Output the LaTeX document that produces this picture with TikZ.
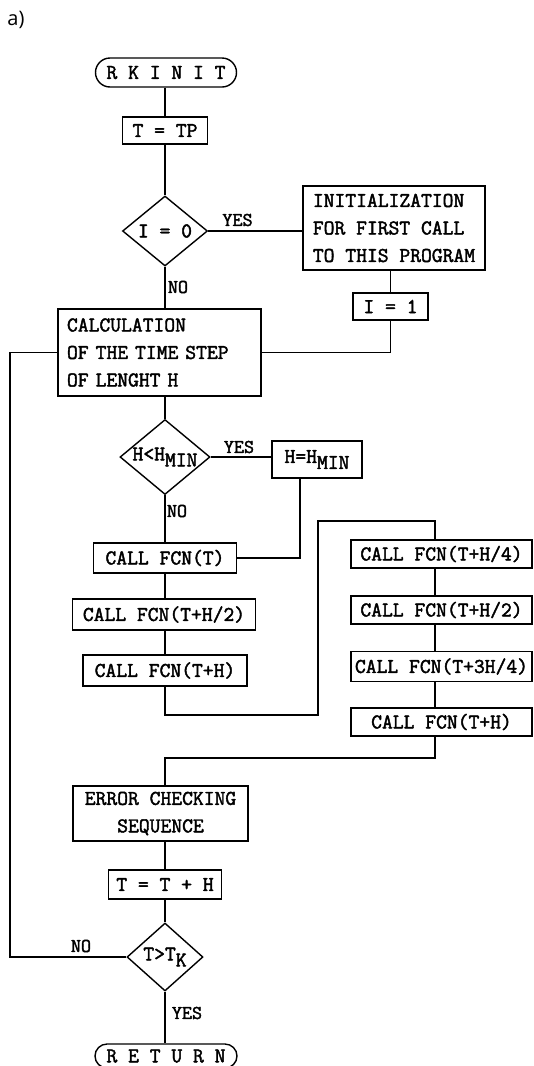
\documentclass[tikz,border=0pt]{standalone}
\usepackage{fontspec}
\newfontfamily\tw[FakeBold=2]{Latin Modern Mono}
\newfontfamily\labfont{Open Sans}
\usetikzlibrary{shapes.geometric,shapes.misc}
\newcommand{\lowsub}[1]{\raisebox{-6pt}{#1}}
\begin{document}
\begin{tikzpicture}[x=1pt,y=-1pt,
  every node/.style={inner sep=0pt, font=\tw\fontsize{21}{27.5}\selectfont},
  flow/.style={line width=1.4pt},
  box/.style={draw, line width=1.4pt, rectangle},
  term/.style={draw, line width=1.4pt, rounded rectangle},
  dec/.style={draw, line width=1.4pt, diamond},
  lab/.style={font=\tw\fontsize{19.5}{19.5}\selectfont}
]
\useasboundingbox (0,0) rectangle (534,1066);

% coordinates for connector routing
\coordinate (mx) at (165,0);
\coordinate (rx) at (435,0);
\coordinate (hx) at (300,0);
\coordinate (lx) at (10,0);
\coordinate (j1) at (165,715);
\coordinate (j2) at (318,715);
\coordinate (j3) at (318,521);
\coordinate (j4) at (435,521);
\coordinate (j5) at (435,758);
\coordinate (j6) at (165,758);

\node (alab) at (16,20) {\labfont\fontsize{20}{20}\selectfont a)};

% main column
\node[term, minimum width=141pt, minimum height=29pt] (rk) at (166,72.5) {R K I N I T};
\node[box, minimum width=85pt, minimum height=27pt] (ttp) at (165,130.5) {T = TP};
\node[dec, minimum width=85pt, minimum height=70pt] (d1) at (165,231) {\makebox[0pt]{I = 0}};
\node[box, minimum width=182pt, minimum height=84pt, align=left] (init) at (394,228)
  {INITIALIZATION\\FOR FIRST CALL\\TO THIS PROGRAM};
\node[box, minimum width=75pt, minimum height=27pt] (i1) at (390.5,306.5) {I = 1};
\node[box, minimum width=203pt, minimum height=87pt, text width=185pt, align=left] (calc) at (159.5,352.5)
  {CALCULATION\\OF THE TIME STEP\\OF LENGHT H};
\node[dec, minimum width=90pt, minimum height=75pt] (d2) at (165,457)
  {\makebox[0pt]{H<H\lowsub{MIN}}};
\node[box, minimum width=90pt, minimum height=37pt] (hm) at (317,459.5) {H=H\lowsub{MIN}};
\node[box, minimum width=143pt, minimum height=30pt] (c1) at (165,558) {CALL FCN(T)};
\node[box, minimum width=183pt, minimum height=31pt] (c2) at (164,614.5) {CALL FCN(T+H/2)};
\node[box, minimum width=164pt, minimum height=31pt] (c3) at (165,670.5) {CALL FCN(T+H)};

% right column
\node[box, minimum width=181pt, minimum height=28pt] (r1) at (441.5,554) {CALL FCN(T+H/4)};
\node[box, minimum width=181pt, minimum height=28pt] (r2) at (441.5,610) {CALL FCN(T+H/2)};
\node[box, minimum width=181pt, minimum height=30pt] (r3) at (441.5,666.5) {CALL FCN(T+3H/4)};
\node[box, minimum width=181pt, minimum height=28pt] (r4) at (441.5,722) {CALL FCN(T+H)};

% lower part
\node[box, minimum width=175pt, minimum height=55pt, align=center] (err) at (160.5,813.5)
  {ERROR CHECKING\\SEQUENCE};
\node[box, minimum width=113pt, minimum height=29pt] (tth) at (165,884.5) {T = T + H};
\node[dec, minimum width=76pt, minimum height=68pt] (d3) at (165,957)
  {\makebox[0pt]{T>T\lowsub{K}}};
\node[term, minimum width=142pt, minimum height=24pt] (ret) at (166,1056) {R E T U R N};

% labels
\node[lab] (yes1) at (237.5,220) {YES};
\node[lab] (no1) at (178,287) {NO};
\node[lab] (yes2) at (239,447) {YES};
\node[lab] (no2) at (177,511) {NO};
\node[lab] (no3) at (81,946) {NO};
\node[lab] (yes3) at (187,1013) {YES};

% connectors
\draw[flow] (rk.south -| mx) -- (ttp.north -| mx);
\draw[flow] (ttp.south -| mx) -- (d1.north);
\draw[flow] (d1.south) -- (calc.north -| mx);
\draw[flow] (d1.east) -- (d1.east -| init.west);
\draw[flow] (init.south -| i1) -- (i1.north);
\draw[flow] (i1.south) |- (calc.east);
\draw[flow] (calc.south -| mx) -- (d2.north);
\draw[flow] (d2.east) -- (d2.east -| hm.west);
\draw[flow] (hm.south -| hx) |- (c1.east);
\draw[flow] (d2.south) -- (c1.north -| mx);
\draw[flow] (c1.south -| mx) -- (c2.north -| mx);
\draw[flow] (c2.south -| mx) -- (c3.north -| mx);
\draw[flow] (c3.south -| mx) -- (j1) -- (j2) -- (j3) -- (j4) -- (r1.north -| rx);
\draw[flow] (r1.south -| rx) -- (r2.north -| rx);
\draw[flow] (r2.south -| rx) -- (r3.north -| rx);
\draw[flow] (r3.south -| rx) -- (r4.north -| rx);
\draw[flow] (r4.south -| rx) -- (j5) -- (j6) -- (err.north -| mx);
\draw[flow] (err.south -| mx) -- (tth.north -| mx);
\draw[flow] (tth.south -| mx) -- (d3.north);
\draw[flow] (d3.south) -- (ret.north -| mx);
\draw[flow] (d3.west) -- (d3.west -| lx) -- (calc.west -| lx) -- (calc.west);
\end{tikzpicture}
\end{document}
